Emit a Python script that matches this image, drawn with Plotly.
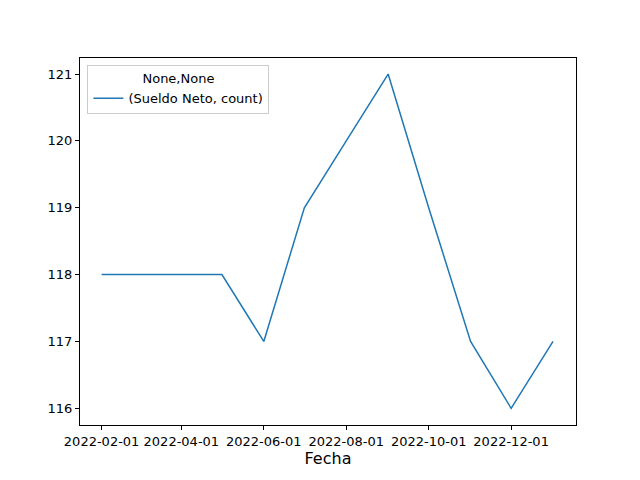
import plotly.graph_objects as go

fechas = ["2022-02-01", "2022-03-01", "2022-04-01", "2022-05-01", "2022-06-01", "2022-07-01",
          "2022-08-01", "2022-09-01", "2022-10-01", "2022-11-01", "2022-12-01", "2023-01-01"]
conteo = [118, 118, 118, 118, 117, 119, 120, 121, 119, 117, 116, 117]
tick_fechas = ["2022-02-01", "2022-04-01", "2022-06-01", "2022-08-01", "2022-10-01", "2022-12-01"]

fig = go.Figure(go.Scatter(x=fechas, y=conteo, mode="lines", name="(Sueldo Neto, count)",
                           line=dict(color="#1f77b4", width=1.5)))

axis_style = dict(showline=True, linecolor="black", linewidth=1, mirror=True, showgrid=False,
                  ticks="outside", ticklen=4, tickcolor="black", zeroline=False,
                  tickfont=dict(size=13))
fig.update_layout(
    width=640, height=480,
    margin=dict(l=72, r=72, t=50, b=63),
    plot_bgcolor="white", paper_bgcolor="white",
    font=dict(family="DejaVu Sans", size=13, color="black"),
    xaxis=dict(axis_style, type="date", range=["2022-01-16", "2023-01-18"],
               tickvals=tick_fechas, ticktext=tick_fechas,
               title=dict(text="Fecha", standoff=4)),
    yaxis=dict(axis_style, range=[115.75, 121.24], tickvals=[116, 117, 118, 119, 120, 121]),
    showlegend=True,
    legend=dict(x=0.015, y=0.98, xanchor="left", yanchor="top", bgcolor="white",
                bordercolor="#cccccc", borderwidth=1, font=dict(size=13),
                title=dict(text="None,None", side="top center", font=dict(size=13))),
)
fig.write_html("out.html")
